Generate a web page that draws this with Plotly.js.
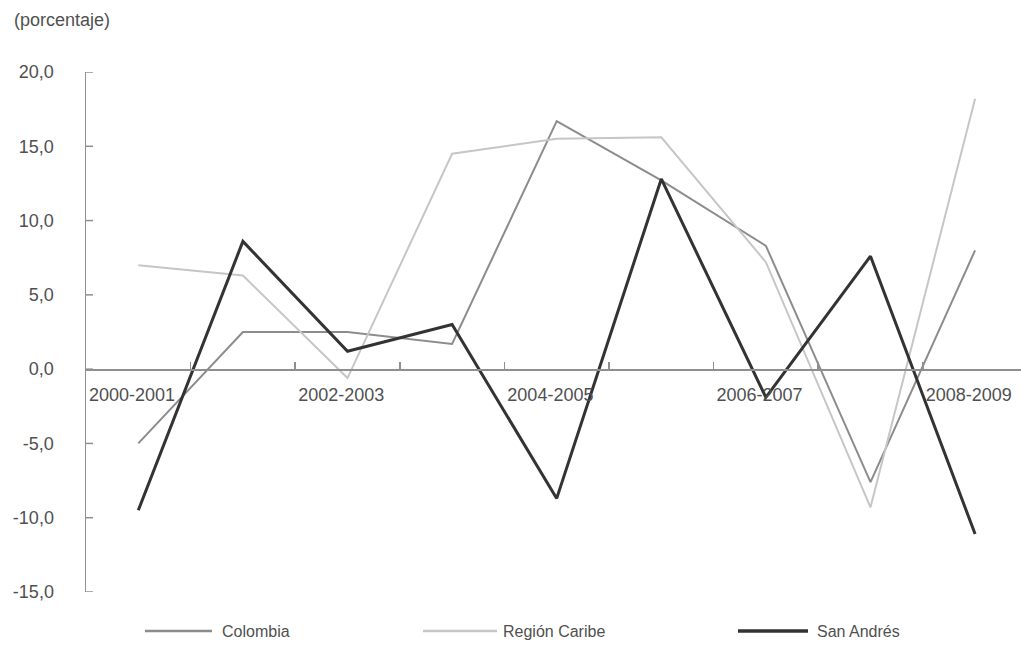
<!DOCTYPE html>
<html>
<head>
<meta charset="utf-8">
<script src="https://cdn.plot.ly/plotly-3.0.1.min.js"></script>
<style>
  html, body { margin: 0; padding: 0; background: #ffffff; }
  #chart { width: 1021px; height: 656px; }
</style>
</head>
<body>
<div id="chart"></div>
<script>
// Periodos anuales (variación porcentual)
const periods = ["2000-2001", "2001-2002", "2002-2003", "2003-2004", "2004-2005",
                 "2005-2006", "2006-2007", "2007-2008", "2008-2009"];
// Etiquetas mostradas en el eje horizontal (una de cada dos)
const periodLabels = ["2000-2001", "", "2002-2003", "", "2004-2005", "", "2006-2007", "", "2008-2009"];

const colombia     = [-5.0, 2.5, 2.5, 1.7, 16.7, 12.7, 8.3, -7.6, 8.0];
const regionCaribe = [7.0, 6.3, -0.6, 14.5, 15.5, 15.6, 7.2, -9.3, 18.2];
const sanAndres    = [-9.5, 8.6, 1.2, 3.0, -8.7, 12.8, -1.9, 7.6, -11.1];

const seriesNames  = ["Colombia", "Región Caribe", "San Andrés"];
const yTicks       = [-15, -10, -5, 0, 5, 10, 15, 20];

// Cada periodo ocupa una franja de ancho 1; el punto va al centro de la franja
const xPos = periods.map((_, i) => i + 0.5);
const boundaries = periods.map((_, i) => i);
// Etiquetas del eje vertical con coma decimal y guion simple
const yTickText = yTicks.map(v => v.toFixed(1).replace(".", ","));

const W = 1021, H = 656;
const M = { l: 86, r: 0, t: 72, b: 64 };
const plotW = W - M.l - M.r, plotH = H - M.t - M.b;
const px = x => (x - M.l) / plotW;          // píxel -> fracción del papel (x)
const py = y => (H - M.b - y) / plotH;      // píxel -> fracción del papel (y)

const FONT = "Liberation Sans, Arial, Helvetica, sans-serif";
const TXT = "#505050";
const AXIS = "#8f8f8f";
const styles = [
  { color: "#8c8c8c", width: 2 },
  { color: "#c6c6c6", width: 2 },
  { color: "#333333", width: 3 }
];
const values = [colombia, regionCaribe, sanAndres];

const traces = values.map((v, k) => ({
  type: "scatter",
  mode: "lines",
  x: xPos,
  y: v,
  name: seriesNames[k],
  text: periods,
  hovertemplate: "%{text}: %{y:.1f}<extra>" + seriesNames[k] + "</extra>",
  line: { color: styles[k].color, width: styles[k].width },
  showlegend: false
}));

// Marcas del eje vertical, hacia el interior del área de trazado
const shapes = yTicks.map(v => ({
  type: "line", xref: "paper", yref: "y",
  x0: 0, x1: px(M.l + 7), y0: v, y1: v,
  line: { color: AXIS, width: 1.5 }
}));

// Leyenda dibujada a mano bajo el gráfico
const legendPos = [ { x0: 145, x1: 212, tx: 220 },
                    { x0: 423, x1: 497, tx: 501 },
                    { x0: 738, x1: 808, tx: 815 } ];
const legendY = 631;
legendPos.forEach((p, k) => shapes.push({
  type: "line", xref: "paper", yref: "paper",
  x0: px(p.x0), x1: px(p.x1), y0: py(legendY), y1: py(legendY),
  line: { color: styles[k].color, width: styles[k].width + 0.5 }
}));
const annotations = legendPos.map((p, k) => ({
  xref: "paper", yref: "paper", x: px(p.tx), y: py(legendY),
  xanchor: "left", yanchor: "middle", showarrow: false,
  text: seriesNames[k], font: { family: FONT, size: 16, color: TXT }
}));
annotations.push({
  xref: "paper", yref: "paper", x: px(12), y: py(20),
  xanchor: "left", yanchor: "middle", showarrow: false,
  text: "(porcentaje)", font: { family: FONT, size: 18, color: TXT }
});

const yMin = -15, yMax = 20;

const layout = {
  width: W, height: H,
  margin: M,
  paper_bgcolor: "#ffffff",
  plot_bgcolor: "#ffffff",
  separators: ",.",
  font: { family: FONT, color: TXT, size: 16 },
  showlegend: false,
  xaxis: {
    range: [0, plotW / 104.6],
    anchor: "free",
    position: (0 - yMin) / (yMax - yMin),
    showline: true, linecolor: AXIS, linewidth: 1.5,
    showgrid: false, zeroline: false,
    ticks: "inside", ticklen: 7, tickcolor: AXIS, tickwidth: 1.5,
    tickmode: "array", tickvals: boundaries, ticktext: periodLabels,
    ticklabelshift: 46, ticklabelstandoff: 9,
    tickfont: { family: FONT, size: 18, color: TXT },
    fixedrange: true
  },
  yaxis: {
    range: [yMin, yMax],
    showline: true, linecolor: AXIS, linewidth: 1.5,
    showgrid: false, zeroline: false,
    ticks: "",
    tickmode: "array", tickvals: yTicks, ticktext: yTickText,
    ticklabelstandoff: 27,
    tickfont: { family: FONT, size: 18, color: TXT },
    fixedrange: true
  },
  shapes: shapes,
  annotations: annotations
};

Plotly.newPlot("chart", traces, layout, { displayModeBar: false, staticPlot: true });
</script>
</body>
</html>
